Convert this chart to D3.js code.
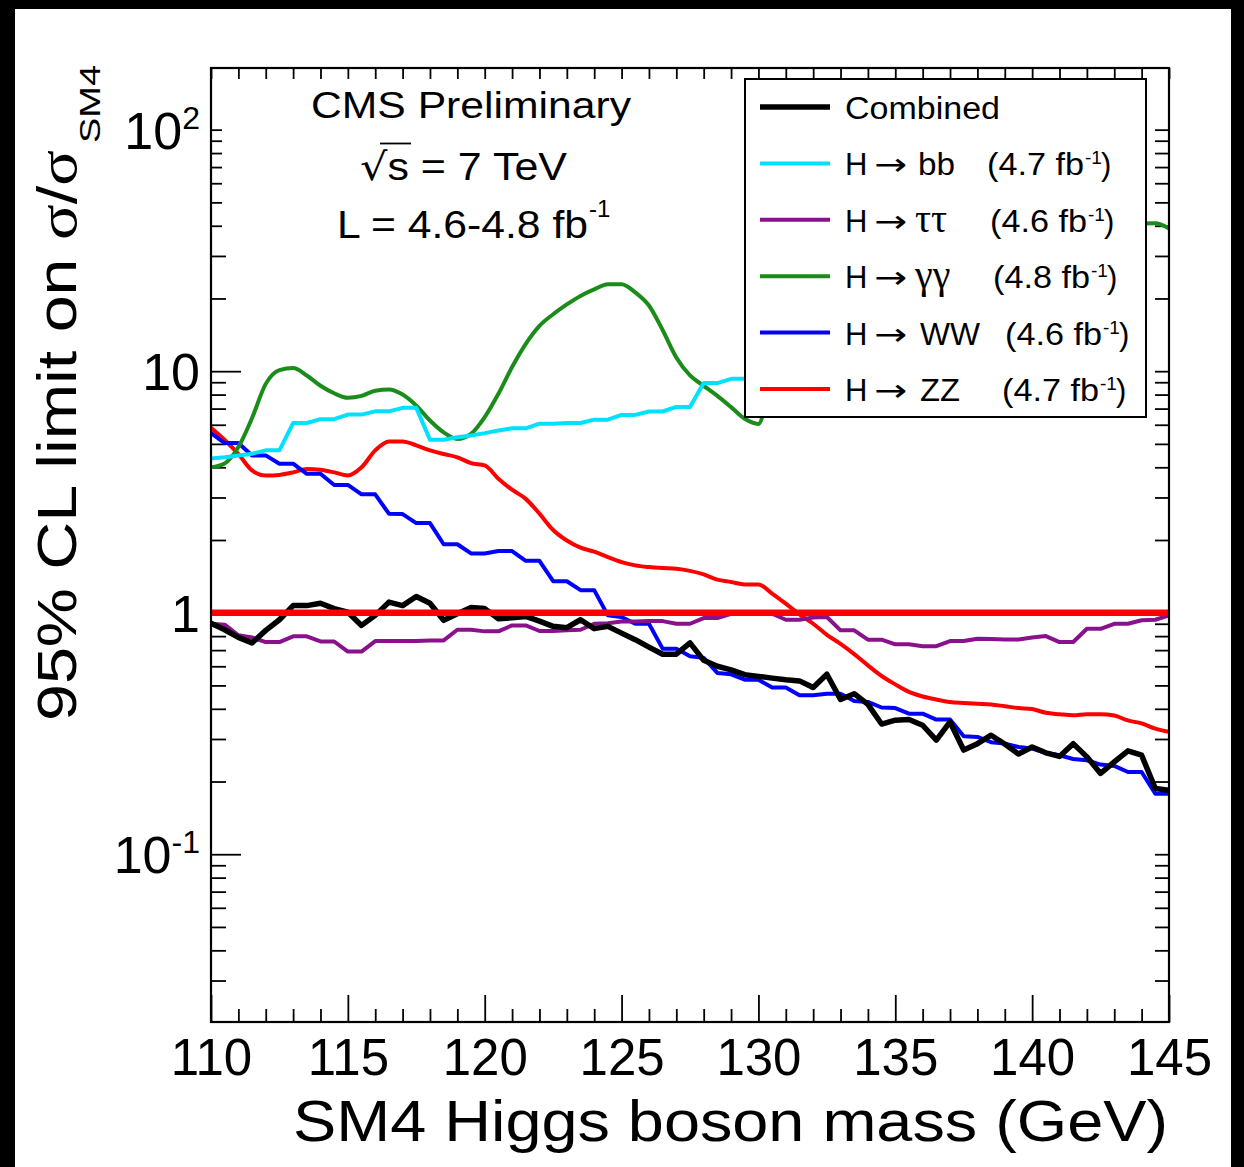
<!DOCTYPE html>
<html>
<head>
<meta charset="utf-8">
<script src="https://cdn.jsdelivr.net/npm/d3@7"></script>
<style>
  body { margin: 0; background: #000; }
  svg { display: block; }
  text { font-family: "Liberation Sans", Arial, Helvetica, sans-serif; fill: #000; }
  .sym { font-family: "Liberation Serif", "DejaVu Serif", serif; }
  .arrow { font-family: "DejaVu Sans", sans-serif; }
</style>
</head>
<body>
<div id="chart"></div>
<script>
// SM4 Higgs limits, 95% CL on sigma/sigma_SM4, per channel + combined

var mass = [110,110.5,111,111.5,112,112.5,113,113.5,114,114.5,115,115.5,116,116.5,117,117.5,118,118.5,119,119.5,
  120,120.5,121,121.5,122,122.5,123,123.5,124,124.5,125,125.5,126,126.5,127,127.5,128,128.5,129,129.5,
  130,130.5,131,131.5,132,132.5,133,133.5,134,134.5,135,135.5,136,136.5,137,137.5,138,138.5,139,139.5,
  140,140.5,141,141.5,142,142.5,143,143.5,144,144.5,145];

var combined = [0.905,0.85,0.79,0.75,0.845,0.935,1.07,1.07,1.095,1.04,
  1.005,0.886,0.975,1.106,1.07,1.168,1.095,0.93,0.99,1.05,
  1.04,0.944,0.953,0.965,0.923,0.878,0.867,0.935,0.859,0.878,
  0.823,0.773,0.72,0.673,0.673,0.75,0.635,0.60,0.58,0.554,
  0.545,0.536,0.528,0.522,0.49,0.556,0.437,0.462,0.417,0.346,
  0.359,0.361,0.342,0.297,0.353,0.27,0.287,0.311,0.286,0.26,
  0.278,0.263,0.254,0.287,0.253,0.216,0.241,0.268,0.257,0.187,
  0.184];

var limitWW = [5.54,5.04,5.04,4.48,4.48,4.14,4.14,3.76,3.76,3.38,
  3.38,3.09,3.09,2.57,2.56,2.35,2.35,1.92,1.92,1.76,
  1.76,1.80,1.80,1.64,1.64,1.35,1.35,1.24,1.24,0.975,
  0.96,0.90,0.90,0.71,0.71,0.66,0.65,0.563,0.556,0.528,
  0.528,0.49,0.49,0.455,0.455,0.462,0.462,0.431,0.427,0.405,
  0.403,0.382,0.382,0.361,0.361,0.308,0.306,0.291,0.287,0.278,
  0.274,0.263,0.257,0.248,0.245,0.235,0.232,0.219,0.219,0.178,
  0.178];

var limitZZ = [5.83,5.19,4.54,3.88,3.70,3.72,3.81,3.94,3.91,3.81,
  3.70,4.0,4.70,5.12,5.12,4.93,4.70,4.54,4.4,4.16,
  4.07,3.59,3.23,2.96,2.57,2.20,1.99,1.86,1.79,1.70,
  1.62,1.57,1.545,1.53,1.52,1.49,1.44,1.37,1.34,1.31,
  1.31,1.20,1.09,0.985,0.90,0.81,0.743,0.674,0.605,0.547,
  0.505,0.47,0.45,0.437,0.427,0.423,0.42,0.417,0.41,0.403,
  0.399,0.385,0.38,0.376,0.38,0.38,0.375,0.358,0.348,0.331,
  0.321];

var limitTauTau = [0.90,0.892,0.806,0.79,0.756,0.756,0.798,0.798,0.76,0.76,
  0.69,0.69,0.763,0.763,0.763,0.763,0.768,0.768,0.85,0.85,
  0.837,0.837,0.886,0.886,0.84,0.84,0.845,0.85,0.90,0.905,
  0.92,0.92,0.923,0.923,0.90,0.90,0.95,0.95,0.99,0.99,
  0.99,0.99,0.935,0.935,0.955,0.96,0.845,0.845,0.773,0.773,
  0.74,0.74,0.727,0.727,0.763,0.763,0.78,0.778,0.775,0.775,
  0.79,0.80,0.756,0.756,0.858,0.858,0.90,0.90,0.93,0.935,
  0.975];

// bb only goes to 135 (tail sits behind the legend)
var massBB = [110,110.5,111,111.5,112,112.5,113,113.5,114,114.5,115,115.5,116,116.5,117,117.5,118,118.5,119,119.5,
  120,120.5,121,121.5,122,122.5,123,123.5,124,124.5,125,125.5,126,126.5,127,127.5,128,128.5,129,129.5,
  130,130.5,131,131.5,132,132.5,133,133.5,134,134.5,135];
var limitBB = [4.35,4.40,4.48,4.55,4.70,4.70,6.10,6.10,6.33,6.33,
  6.61,6.61,6.82,6.82,7.05,7.05,5.20,5.20,5.33,5.42,
  5.54,5.68,5.80,5.80,6.06,6.06,6.10,6.10,6.30,6.30,
  6.59,6.59,6.81,6.81,7.11,7.11,8.93,8.93,9.3,9.3,
  9.5,9.5,9.8,9.8,10.1,10.1,10.4,10.4,10.7,10.7,
  11.0];

// gamma-gamma: middle part is hidden by the legend
var massGG = [110,110.5,111,111.5,112,112.5,113,113.5,114,114.5,115,115.5,116,116.5,117,117.5,118,118.5,119,119.5,
  120,120.5,121,121.5,122,122.5,123,123.5,124,124.5,125,125.5,126,126.5,127,127.5,128,128.5,129,129.5,
  130,130.5,144.5,145];
var limitGG = [4.0,4.15,4.85,6.4,8.86,10.1,10.3,9.6,8.7,8.1,
  7.76,7.9,8.3,8.4,8.0,7.2,6.25,5.58,5.24,5.5,
  6.45,8.06,10.4,12.97,15.4,17.2,18.9,20.5,21.8,22.9,
  22.9,21.2,18.7,14.8,11.4,9.6,8.7,7.9,7.1,6.35,
  6.05,9.0,41,39];

var refLevel = [1];

var xTickLabels = [110,115,120,125,130,135,140,145];
var yTickLabels = [
  {value: 0.1, base: '10', exp: '-1'},
  {value: 1, base: '1', exp: ''},
  {value: 10, base: '10', exp: ''},
  {value: 100, base: '10', exp: '2'}
];
var yMinorShort = [40,50,60,70,80,90,100];

var legendChannels = ['bb','ττ','γγ','WW','ZZ'];
var legendLumi = ['4.7','4.6','4.8','4.6','4.7'];

// ----------------------------------------------------------------

var W = 1244, H = 1167;
var frame = {left: 211, right: 1169, top: 68, bottom: 1022};

var svg = d3.select('#chart').append('svg')
  .attr('width', W)
  .attr('height', H);

svg.append('rect').attr('width', W).attr('height', H).attr('fill', '#000');
svg.append('rect').attr('x', 15).attr('y', 9).attr('width', 1216).attr('height', H - 9).attr('fill', '#fff');

var x = d3.scaleLinear().domain([110, 145]).range([frame.left, frame.right]);
var y = d3.scaleLog().domain([0.0202, 180]).range([frame.bottom, frame.top]);

var xMinor = d3.range(111, 145, 1).filter(function(d) { return d % 5 !== 0; });
var yMinor = [];
[0.01, 0.1, 1, 10].forEach(function(dec) {
  for (var k = 2; k <= 9; k++) {
    var v = +(k * dec).toPrecision(3);
    if (v > 0.0202 && v < 180) yMinor.push(v);
  }
});
var yMinorLong = yMinor.filter(function(v) { return v < 40; });

function tickStyle(g) {
  g.select('.domain').remove();
  g.selectAll('.tick line').attr('stroke', '#000').attr('stroke-width', 1.8);
}

// bottom axis
svg.append('g').attr('transform', 'translate(0,' + frame.bottom + ')')
  .call(d3.axisBottom(x).tickValues(xMinor).tickSize(-13).tickFormat(''))
  .call(tickStyle);
var xAx = svg.append('g').attr('transform', 'translate(0,' + frame.bottom + ')')
  .call(d3.axisBottom(x).tickValues(xTickLabels).tickSize(-27).tickPadding(17).tickFormat(d3.format('d')))
  .call(tickStyle);
xAx.attr('font-size', null).attr('font-family', null);
xAx.selectAll('text').style('font-size', '51px').attr('fill', '#000');

// top axis
svg.append('g').attr('transform', 'translate(0,' + frame.top + ')')
  .call(d3.axisTop(x).tickValues(xMinor.concat(xTickLabels)).tickSize(-11).tickFormat(''))
  .call(tickStyle);

// left axis
svg.append('g').attr('transform', 'translate(' + frame.left + ',0)')
  .call(d3.axisLeft(y).tickValues([0.1, 1, 10]).tickSize(-30).tickFormat(''))
  .call(tickStyle);
svg.append('g').attr('transform', 'translate(' + frame.left + ',0)')
  .call(d3.axisLeft(y).tickValues(yMinorLong).tickSize(-15).tickFormat(''))
  .call(tickStyle);
svg.append('g').attr('transform', 'translate(' + frame.left + ',0)')
  .call(d3.axisLeft(y).tickValues(yMinorShort).tickSize(-11).tickFormat(''))
  .call(tickStyle);

// right axis
svg.append('g').attr('transform', 'translate(' + frame.right + ',0)')
  .call(d3.axisRight(y).tickValues([0.1, 1, 10, 100].concat(yMinor)).tickSize(-14).tickFormat(''))
  .call(tickStyle);

// y tick labels with exponents
yTickLabels.forEach(function(d) {
  var t = svg.append('text')
    .attr('x', 200)
    .attr('y', y(d.value) + 19)
    .attr('text-anchor', 'end')
    .style('font-size', '52px');
  t.append('tspan').text(d.base);
  if (d.exp) t.append('tspan').attr('dy', -20).style('font-size', '32px').text(d.exp);
});

// curves
var plot = svg.append('g');
svg.append('clipPath').attr('id', 'clip')
  .append('rect').attr('x', frame.left).attr('y', frame.top)
  .attr('width', frame.right - frame.left).attr('height', frame.bottom - frame.top);
plot.attr('clip-path', 'url(#clip)');

function makeSeries(ms, vs) {
  return ms.map(function(m, i) { return {m: m, v: vs[i]}; });
}

var series = [
  {id: 'zz', data: makeSeries(mass, limitZZ), color: '#ff0000', width: 4, curve: d3.curveMonotoneX},
  {id: 'ww', data: makeSeries(mass, limitWW), color: '#0000ff', width: 4, curve: d3.curveLinear},
  {id: 'gg', data: makeSeries(massGG, limitGG), color: '#1a8c1a', width: 4, curve: d3.curveMonotoneX},
  {id: 'tt', data: makeSeries(mass, limitTauTau), color: '#8a118c', width: 4, curve: d3.curveLinear},
  {id: 'bb', data: makeSeries(massBB, limitBB), color: '#00e1ff', width: 4, curve: d3.curveLinear},
  {id: 'comb', data: makeSeries(mass, combined), color: '#000000', width: 5.5, curve: d3.curveLinear}
];

series.forEach(function(s) {
  var line = d3.line()
    .x(function(d) { return x(d.m); })
    .y(function(d) { return y(d.v); })
    .curve(s.curve);
  plot.append('path')
    .attr('id', s.id)
    .datum(s.data)
    .attr('fill', 'none')
    .attr('stroke', s.color)
    .attr('stroke-width', s.width)
    .attr('stroke-linejoin', 'round')
    .attr('d', line);
});

// reference line at 1
plot.selectAll('.ref').data(refLevel).enter().append('line')
  .attr('x1', x(110)).attr('x2', x(145))
  .attr('y1', function(d) { return y(d); })
  .attr('y2', function(d) { return y(d); })
  .attr('stroke', '#ff0000')
  .attr('stroke-width', 6.5);

// frame
svg.append('rect')
  .attr('x', frame.left).attr('y', frame.top)
  .attr('width', frame.right - frame.left).attr('height', frame.bottom - frame.top)
  .attr('fill', 'none').attr('stroke', '#000').attr('stroke-width', 2.2);

// legend
var legend = svg.append('g');
legend.append('rect')
  .attr('x', 745).attr('y', 79).attr('width', 401).attr('height', 338)
  .attr('fill', '#fff').attr('stroke', '#000').attr('stroke-width', 2);

var rowY = function(i) { return 107 + i * 56.4; };
var legendColors = ['#000000', '#00e1ff', '#8a118c', '#1a8c1a', '#0000ff', '#ff0000'];
var chanX = [918, 915, 915, 920, 920];
var chanLen = [37, 0, 0, 60, 40];
var lumiX = [987, 990, 993, 1005, 1002];

legendColors.forEach(function(c, i) {
  legend.append('line')
    .attr('x1', 760).attr('x2', 830)
    .attr('y1', rowY(i)).attr('y2', rowY(i))
    .attr('stroke', c).attr('stroke-width', i === 0 ? 5.5 : 4);
});

legend.append('text').attr('x', 845).attr('y', rowY(0) + 12)
  .style('font-size', '31px')
  .attr('textLength', 155).attr('lengthAdjust', 'spacingAndGlyphs')
  .text('Combined');

legendChannels.forEach(function(ch, j) {
  var b = rowY(j + 1) + 12;
  legend.append('text').attr('x', 845).attr('y', b).style('font-size', '31px').text('H');
  legend.append('text').attr('class', 'arrow').attr('x', 874).attr('y', b)
    .style('font-size', '31px')
    .attr('textLength', 33).attr('lengthAdjust', 'spacingAndGlyphs')
    .text('→');
  var greek = (ch === 'ττ' || ch === 'γγ');
  var ct = legend.append('text').attr('x', chanX[j]).attr('y', b)
    .attr('class', greek ? 'sym' : null)
    .style('font-size', greek ? '40px' : '31px')
    .text(ch);
  if (chanLen[j]) ct.attr('textLength', chanLen[j]).attr('lengthAdjust', 'spacingAndGlyphs');
  legend.append('text').attr('x', lumiX[j]).attr('y', b)
    .style('font-size', '31px')
    .attr('textLength', 97).attr('lengthAdjust', 'spacingAndGlyphs')
    .text('(' + legendLumi[j] + ' fb');
  legend.append('text').attr('x', lumiX[j] + 98).attr('y', b - 11)
    .style('font-size', '19px').text('-1');
  legend.append('text').attr('x', lumiX[j] + 114).attr('y', b)
    .style('font-size', '31px').text(')');
});

// CMS labels
svg.append('text').attr('x', 311).attr('y', 118)
  .style('font-size', '37px')
  .attr('textLength', 320).attr('lengthAdjust', 'spacingAndGlyphs')
  .text('CMS Preliminary');
var sqrtText = svg.append('text').attr('x', 360).attr('y', 180)
  .style('font-size', '38px')
  .attr('textLength', 207).attr('lengthAdjust', 'spacingAndGlyphs');
sqrtText.append('tspan').attr('class', 'arrow').text('√');
sqrtText.append('tspan').text('s = 7 TeV');
svg.append('line')
  .attr('x1', 380).attr('x2', 411).attr('y1', 143.5).attr('y2', 143.5)
  .attr('stroke', '#000').attr('stroke-width', 1.8);
svg.append('text').attr('x', 337).attr('y', 238)
  .style('font-size', '38px')
  .attr('textLength', 251).attr('lengthAdjust', 'spacingAndGlyphs')
  .text('L = 4.6-4.8 fb');
svg.append('text').attr('x', 589).attr('y', 217)
  .style('font-size', '24px').text('-1');

// axis titles
svg.append('text').attr('x', 293).attr('y', 1141)
  .style('font-size', '58px')
  .attr('textLength', 875).attr('lengthAdjust', 'spacingAndGlyphs')
  .text('SM4 Higgs boson mass (GeV)');

var ylab = svg.append('text')
  .attr('transform', 'translate(76,721) rotate(-90)')
  .style('font-size', '55px')
  .attr('textLength', 571).attr('lengthAdjust', 'spacingAndGlyphs');
ylab.append('tspan').text('95% CL limit on ');
ylab.append('tspan').attr('class', 'sym').text('σ');
ylab.append('tspan').text('/');
ylab.append('tspan').attr('class', 'sym').text('σ');
svg.append('text')
  .attr('transform', 'translate(100,143) rotate(-90)')
  .style('font-size', '29px')
  .attr('textLength', 78).attr('lengthAdjust', 'spacingAndGlyphs')
  .text('SM4');
</script>
</body>
</html>
